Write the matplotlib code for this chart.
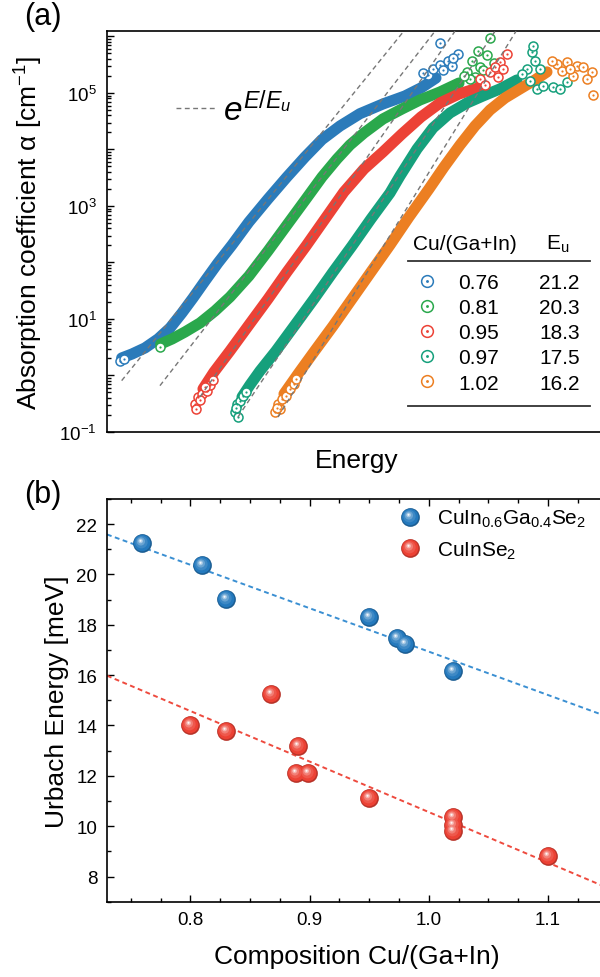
import numpy as np
import matplotlib
matplotlib.use("Agg")
import matplotlib.pyplot as plt
from matplotlib.lines import Line2D
from matplotlib.path import Path
from matplotlib.legend_handler import HandlerTuple
from matplotlib.ticker import LogLocator, MultipleLocator, FuncFormatter, NullFormatter
from matplotlib import colors as mcolors

plt.rcParams['font.family'] = ['Liberation Sans', 'DejaVu Sans']
plt.rcParams['mathtext.fontset'] = 'custom'
plt.rcParams['mathtext.rm'] = 'Liberation Sans'
plt.rcParams['mathtext.it'] = 'Liberation Sans:italic'
plt.rcParams['mathtext.bf'] = 'Liberation Sans:bold'

# ---- panel (a): absorption edges (energy in eV, alpha in cm^-1) ----
blue_band_e = [0.8662, 0.8774, 0.8914, 0.9055, 0.9185, 0.9314, 0.9433, 0.9563, 0.9703, 0.9855, 1.0038,
               1.0244, 1.0449, 1.0644, 1.0828, 1.1022, 1.1238, 1.1487, 1.1725, 1.1898, 1.2060]
blue_band_a = [2.04, 2.40, 3.07, 4.43, 6.93, 12.8, 23.5, 47.1, 98, 204, 521,
               1330, 3260, 7360, 1.50e4, 2.60e4, 4.30e4, 6.39e4, 8.85e4, 1.23e5, 1.84e5]
blue_pts_e = [0.8644, 0.8687, 1.1974, 1.2028, 1.2103, 1.2190, 1.2233, 1.2298, 1.2103,
              1.1920, 1.2136, 1.2244]
blue_pts_a = [1.81, 1.96, 2.08e5, 2.66e5, 3.13e5, 3.69e5, 3.01e5, 4.90e5, 7.68e5,
              2.3e5, 2.6e5, 4.1e5]

green_band_e = [0.9084, 0.9207, 0.9347, 0.9509, 0.9671, 0.9833, 1.0038, 1.0244, 1.0449, 1.0655,
                1.0828, 1.0990, 1.1130, 1.1282, 1.1487, 1.1692, 1.1887, 1.2103, 1.2309]
green_band_a = [3.61, 4.43, 5.89, 8.49, 13.9, 24.5, 57.7, 160, 461, 1330,
                3260, 6790, 1.20e4, 1.96e4, 3.47e4, 5.21e4, 7.52e4, 1.04e5, 1.50e5]
green_pts_e = [0.9076, 1.2395, 1.2449, 1.2536, 1.2514, 1.2611, 1.2644, 1.2482, 1.2687, 1.2428,
               1.2363, 1.2568]
green_pts_a = [3.19, 2.36e5, 3.68e5, 2.88e5, 5.53e5, 4.71e5, 9.40e5, 1.92e5, 3.40e5, 1.77e5,
               2.0e5, 2.5e5]

red_band_e = [0.9541, 0.9660, 0.9833, 1.0038, 1.0244, 1.0449, 1.0655, 1.0860, 1.1065, 1.1282,
              1.1487, 1.1692, 1.1898, 1.2103, 1.2309, 1.2514]
red_band_a = [0.577, 1.15, 2.72, 7.84, 22.6, 67.9, 196, 589, 1770, 4520,
              9040, 1.88e4, 3.76e4, 6.65e4, 9.60e4, 1.23e5]
red_pts_e = [0.9455, 0.9487, 0.9530, 0.9584, 0.9509, 0.9617, 0.9649, 0.9563, 0.9466,
             1.2536, 1.2644, 1.2752, 1.2828, 1.2698, 1.2590, 1.2731, 1.2784]
red_pts_a = [0.313, 0.416, 0.471, 0.532, 0.368, 0.679, 0.832, 0.627, 0.255,
             1.77e5, 2.36e5, 3.54e5, 4.90e5, 2.88e5, 1.39e5, 1.92e5, 2.66e5]

teal_band_e = [0.9963, 1.0049, 1.0157, 1.0330, 1.0536, 1.0741, 1.0947, 1.1152, 1.1357, 1.1563,
               1.1671, 1.1855, 1.2028, 1.2211, 1.2395, 1.2568, 1.2752, 1.2936]
teal_band_a = [0.416, 0.679, 1.20, 2.72, 7.84, 22.6, 67.9, 196, 589, 1700,
               3400, 1.02e4, 2.41e4, 4.43e4, 6.65e4, 8.85e4, 1.18e5, 1.70e5]
teal_pts_e = [0.9887, 0.9909, 0.9941, 0.9974, 0.9920, 1.0006, 0.9898, 1.3044, 1.3098, 1.3109,
              1.3152, 1.3217, 1.3325, 1.3401, 1.3476, 1.2990, 1.3130, 1.3184, 1.3076]
teal_pts_a = [0.226, 0.313, 0.354, 0.433, 0.184, 0.510, 0.266, 2.66e5, 5.32e5, 6.79e5,
              1.18e5, 1.33e5, 1.28e5, 1.18e5, 1.57e5, 2.17e5, 3.69e5, 2.66e5, 1.63e5]

orange_band_e = [1.0417, 1.0568, 1.0741, 1.0947, 1.1152, 1.1357, 1.1563, 1.1768, 1.1984, 1.2147,
                 1.2320, 1.2482, 1.2644, 1.2806, 1.2968, 1.3130, 1.3260]
orange_band_a = [0.471, 1.06, 2.61, 7.52, 22.6, 67.9, 204, 638, 2000, 4900,
                 1.20e4, 2.61e4, 5.00e4, 8.16e4, 1.18e5, 1.70e5, 2.36e5]
orange_pts_e = [1.0320, 1.0352, 1.0395, 1.0438, 1.0482, 1.0525, 1.0374, 1.0547, 1.0341,
                1.3368, 1.3476, 1.3584, 1.3649, 1.3746, 1.3757, 1.3541, 1.3422, 1.3314, 1.3692, 1.3509]
orange_pts_a = [0.226, 0.313, 0.384, 0.433, 0.577, 0.708, 0.255, 0.867, 0.266,
                3.26e5, 3.54e5, 3.01e5, 2.88e5, 2.36e5, 9.2e4, 2.0e5, 2.45e5, 3.69e5, 1.77e5, 2.66e5]

# exponential Urbach fits (start / end of each dashed line)
fit_e_start = [0.8662, 0.9076, 0.9509, 0.9919, 1.0352]
fit_e_end = [1.1711, 1.2049, 1.2265, 1.2698, 1.2925]
fit_a_start = [0.81, 0.66, 0.416, 0.184, 0.184]
fit_a_end = [1.236e6, 1.236e6, 1.236e6, 1.236e6, 1.236e6]

cu_ratio = ['0.76', '0.81', '0.95', '0.97', '1.02']
eu_values = ['21.2', '20.3', '18.3', '17.5', '16.2']
edge_colors = ['#2b7bba', '#2aa84c', '#ec4236', '#16a07c', '#ec7f22']

# ---- panel (b): Urbach energy vs composition ----
cigs_x = [0.759, 0.810, 0.830, 0.950, 0.973, 0.980, 1.020]
cigs_y = [21.25, 20.36, 19.04, 18.33, 17.47, 17.25, 16.17]
cis_x = [0.800, 0.830, 0.868, 0.890, 0.889, 0.899, 0.950, 1.020, 1.020, 1.020, 1.100]
cis_y = [14.00, 13.80, 15.24, 13.18, 12.13, 12.10, 11.12, 10.36, 10.03, 9.79, 8.82]
fit_x = [0.73, 1.15]
cigs_fit_y = [21.59, 14.35]
cis_fit_y = [15.98, 7.55]


def mix(c, amount):
    rgb = np.array(mcolors.to_rgb(c))
    if amount >= 0:
        return tuple(rgb + (1 - rgb) * amount)
    return tuple(rgb * (1 + amount))


def offset_circle(r, cx, cy):
    c = Path.circle((cx, cy), r)
    verts = np.vstack([c.vertices, [[1, 1], [-1, -1]]])
    codes = np.concatenate([c.codes, [Path.MOVETO, Path.MOVETO]])
    return Path(verts, codes)


BALL_LAYERS = [(1.0, 0.0, 0.0, -0.22), (0.88, -0.04, 0.05, 0.0), (0.66, -0.11, 0.14, 0.12),
               (0.44, -0.17, 0.22, 0.32), (0.25, -0.2, 0.27, 0.6), (0.11, -0.21, 0.29, 0.95)]


def ball_plot(ax, x, y, color, ms=13.5, zorder=4):
    handles = []
    for r, cx, cy, m in BALL_LAYERS:
        h, = ax.plot(x, y, ls='none', marker=offset_circle(r, cx, cy), ms=ms,
                     mfc=mix(color, m), mec='none', mew=0, zorder=zorder)
        handles.append(h)
    return tuple(handles)


stack = {tuple: HandlerTuple(ndivide=1, pad=0)}

fig = plt.figure(figsize=(6, 9.78), dpi=100)

# ================= (a) =================
ax = fig.add_axes([0.1778, 0.5573, 0.8325, 0.4097])
bands = [(blue_band_e, blue_band_a, blue_pts_e, blue_pts_a),
         (green_band_e, green_band_a, green_pts_e, green_pts_a),
         (red_band_e, red_band_a, red_pts_e, red_pts_a),
         (teal_band_e, teal_band_a, teal_pts_e, teal_pts_a),
         (orange_band_e, orange_band_a, orange_pts_e, orange_pts_a)]
ring_handles = []
for (be, ba, pe, pa), c in zip(bands, edge_colors):
    ax.plot(be, ba, color=c, lw=8, solid_capstyle='round', solid_joinstyle='round', zorder=2)
    ring, = ax.plot(pe, pa, ls='none', marker='o', ms=6.5, mfc='white', mec=c, mew=1.1, zorder=3)
    dot, = ax.plot(pe, pa, ls='none', marker='o', ms=1.6, mfc=c, mec='none', zorder=3)
    ring_handles.append((ring, dot))

dash_style = (0, (3.5, 2.5))
for e0, e1, a0, a1 in zip(fit_e_start, fit_e_end, fit_a_start, fit_a_end):
    ax.plot([e0, e1], [a0, a1], color='#777777', lw=1.0, ls=dash_style, zorder=5)

ax.set_yscale('log')
ax.set_xlim(0.85, 1.39)
ax.set_ylim(0.1, 1.236e6)
ax.yaxis.set_major_locator(LogLocator(base=10, numticks=20))
ax.yaxis.set_minor_locator(LogLocator(base=10, subs=np.arange(2, 10), numticks=20))


def log_fmt(v, pos):
    e = int(round(np.log10(v)))
    return r'$\mathregular{10^{%d}}$' % e if e % 2 else ''


ax.yaxis.set_major_formatter(FuncFormatter(log_fmt))
ax.yaxis.set_minor_formatter(NullFormatter())
ax.tick_params(axis='x', bottom=False, labelbottom=False, top=False)
ax.tick_params(axis='y', which='both', direction='in', right=False, labelsize=13.5, pad=7, width=1.0)
ax.tick_params(axis='y', which='major', length=5)
ax.tick_params(axis='y', which='minor', length=3)
for s in ax.spines.values():
    s.set_linewidth(1.2)

ax.set_xlabel('Energy', fontsize=19, va='center')
ax.xaxis.set_label_coords(0.5, -0.07)
ax.set_ylabel('Absorption coefficient α [cm$^{\\mathregular{-1}}$]', fontsize=19, va='center')
ax.yaxis.set_label_coords(-0.155, 0.5)

leg_fit = ax.legend([Line2D([], [], color='#777777', lw=1.0, ls=dash_style)], [r'$e^{E/E_u}$'],
                    loc='lower left', bbox_to_anchor=(0.1387, 0.7625), frameon=False, fontsize=24,
                    handlelength=1.2, handletextpad=0.2, borderpad=0, borderaxespad=0)
ax.add_artist(leg_fit)

leg_cu = ax.legend(ring_handles, cu_ratio, handler_map=stack, markerscale=1.3,
                   loc='upper left', bbox_to_anchor=(0.6204, 0.3958), frameon=False, fontsize=15,
                   handlelength=1.0, handletextpad=0.99, labelspacing=0.29, borderpad=0,
                   borderaxespad=0, numpoints=1)
ax.add_artist(leg_cu)
blank = [Line2D([], [], alpha=0) for _ in eu_values]
ax.legend(blank, eu_values, loc='upper right', bbox_to_anchor=(0.9476, 0.3958), frameon=False,
          fontsize=15, handlelength=0, handletextpad=0, labelspacing=0.29, borderpad=0,
          borderaxespad=0)

ax.text(0.6132, 0.4567, 'Cu/(Ga+In)', transform=ax.transAxes, fontsize=15, ha='left', va='baseline')
ax.text(0.9035, 0.4567, 'E$_\\mathregular{u}$', transform=ax.transAxes, fontsize=15, ha='center',
        va='baseline')
for yy in (0.4268, 0.0656):
    ax.add_line(Line2D([0.6032, 0.9676], [yy, yy], transform=ax.transAxes, color='#333333', lw=1.3))

# ================= (b) =================
bx = fig.add_axes([0.1783, 0.0770, 0.8342, 0.4118])
bx.plot(fit_x, cigs_fit_y, color='#3a8fd2', lw=1.4, ls=(0, (2.5, 1.8)), zorder=2)
bx.plot(fit_x, cis_fit_y, color='#ee4a3e', lw=1.4, ls=(0, (2.5, 1.8)), zorder=2)
h_cigs = ball_plot(bx, cigs_x, cigs_y, '#2479bd')
h_cis = ball_plot(bx, cis_x, cis_y, '#ec4134')

bx.set_xlim(0.73, 1.15)
bx.set_ylim(7, 23)
bx.xaxis.set_major_locator(MultipleLocator(0.1))
bx.xaxis.set_minor_locator(MultipleLocator(0.025))
bx.yaxis.set_major_locator(MultipleLocator(2))
bx.yaxis.set_minor_locator(MultipleLocator(1))
bx.xaxis.set_major_formatter(FuncFormatter(lambda v, p: '%.1f' % v))
bx.tick_params(which='both', direction='in', top=True, right=True, labelsize=13.5, pad=7, width=1.0)
bx.tick_params(which='major', length=5)
bx.tick_params(which='minor', length=3)
for s in bx.spines.values():
    s.set_linewidth(1.2)

bx.set_xlabel('Composition Cu/(Ga+In)', fontsize=19, va='center')
bx.xaxis.set_label_coords(0.5, -0.135)
bx.set_ylabel('Urbach Energy [meV]', fontsize=19, va='center')
bx.yaxis.set_label_coords(-0.100, 0.5)

bx.legend([h_cigs, h_cis], ['CuIn$_{\\mathregular{0.6}}$Ga$_{\\mathregular{0.4}}$Se$_\\mathregular{2}$',
                            'CuInSe$_\\mathregular{2}$'],
          handler_map=stack, loc='upper left',
          bbox_to_anchor=(0.5802, 0.9775), frameon=False, fontsize=15, handlelength=1.2,
          handletextpad=0.71, labelspacing=0.5, borderpad=0, borderaxespad=0, numpoints=1)

fig.text(24 / 600, 1 - 17 / 978, '(a)', fontsize=22, ha='left', va='center')
fig.text(24 / 600, 1 - 495 / 978, '(b)', fontsize=22, ha='left', va='center')

fig.savefig('out.png', dpi=100)
